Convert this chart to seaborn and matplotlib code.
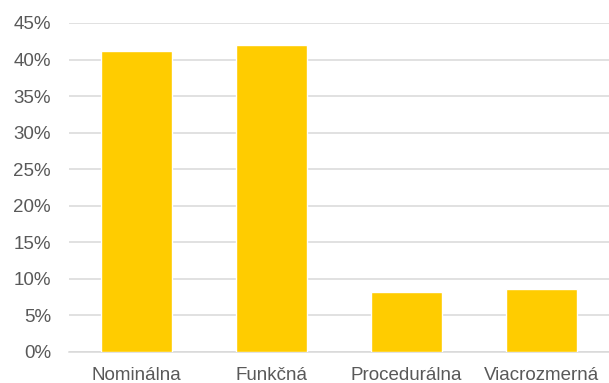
import matplotlib
matplotlib.use("Agg")
import matplotlib.pyplot as plt
import seaborn as sns
import pandas as pd
from matplotlib.ticker import PercentFormatter, MultipleLocator

# data
categories = ["Nominálna", "Funkčná", "Procedurálna", "Viacrozmerná"]
shares = [0.412, 0.420, 0.082, 0.086]

df = pd.DataFrame({"kategoria": categories, "podiel": shares})

sns.set_theme(style="white")
plt.rcParams["font.family"] = ["Liberation Sans", "DejaVu Sans"]

fig = plt.figure(figsize=(6.09, 3.83), dpi=100)
ax = fig.add_axes([0.1133, 0.081, 0.8867, 0.859])

sns.barplot(data=df, x="kategoria", y="podiel", color="#FFCC00",
            width=0.527, saturation=1, ax=ax, zorder=3)

ax.set_ylim(0, 0.45)
ax.set_xlim(-0.5, 3.5)
ax.yaxis.set_major_locator(MultipleLocator(0.05))
ax.yaxis.set_major_formatter(PercentFormatter(1.0, decimals=0))
ax.grid(axis="y", color="#D9D9D9", linewidth=1.1, zorder=0)
ax.set_axisbelow(True)

for s in ["top", "right", "left"]:
    ax.spines[s].set_visible(False)
ax.spines["bottom"].set_color("#D9D9D9")
ax.spines["bottom"].set_linewidth(1.1)

ax.set_xlabel("")
ax.set_ylabel("")
ax.tick_params(axis="both", length=0, labelsize=13.5, labelcolor="#595959")
ax.tick_params(axis="y", pad=13)
ax.tick_params(axis="x", pad=10.5)

fig.savefig("out.png", dpi=100)
plt.close(fig)
